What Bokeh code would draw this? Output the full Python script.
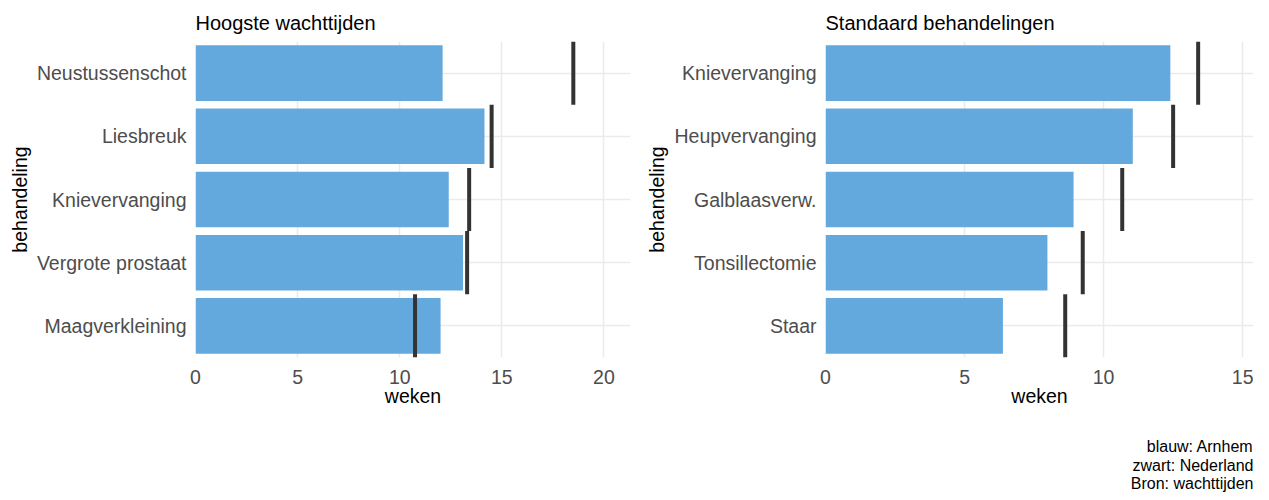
from bokeh.plotting import figure
from bokeh.models import FactorRange, Range1d, FixedTicker
from bokeh.layouts import row, column
from bokeh.embed import file_html
from bokeh.resources import INLINE

# Data
left_cats = ["Neustussenschot", "Liesbreuk", "Knievervanging", "Vergrote prostaat", "Maagverkleining"]
left_arnhem = [12.1, 14.15, 12.4, 13.1, 12.0]
left_nl = [18.5, 14.5, 13.4, 13.3, 10.75]

right_cats = ["Knievervanging", "Heupvervanging", "Galblaasverw.", "Tonsillectomie", "Staar"]
right_arnhem = [12.4, 11.05, 8.92, 7.98, 6.38]
right_nl = [13.4, 12.5, 10.67, 9.25, 8.62]

left_ticks = [0, 5, 10, 15, 20]
right_ticks = [0, 5, 10, 15]

caption = ["blauw: Arnhem\nzwart: Nederland\nBron: wachttijden"]

FONT = "Liberation Sans"
BAR = "#63A9DD"
SEG = "#333333"
GRID = "#EBEBEB"
H = 492
CAP_H = 72


def make_panel(title, cats, arnhem, nl, xmax, ticks, width, height, mbl, mbr, mbb):
    p = figure(width=width, height=height,
               y_range=FactorRange(factors=list(reversed(cats))),
               x_range=Range1d(0, xmax),
               output_backend="svg", toolbar_location=None,
               min_border_left=mbl, min_border_right=mbr,
               min_border_top=41, min_border_bottom=mbb)
    p.hbar(y=cats, right=arnhem, left=0, height=0.88, fill_color=BAR, line_color=None)
    p.rect(x=nl, y=cats, width=4, width_units="screen", height=1.0,
           fill_color=SEG, line_color=None)
    p.title.text = title
    p.title.align = "left"
    p.title.text_font = FONT
    p.title.text_font_size = "20px"
    p.title.text_font_style = "normal"
    p.title.text_color = "black"
    p.title.standoff = 16
    p.outline_line_color = None
    p.xaxis.ticker = FixedTicker(ticks=ticks)
    for ax in (p.xaxis, p.yaxis):
        ax.axis_line_color = None
        ax.major_tick_line_color = None
        ax.minor_tick_line_color = None
        ax.major_label_text_font = FONT
        ax.major_label_text_font_size = "19.5px"
        ax.major_label_text_color = "#4D4D4D"
        ax.axis_label_text_font = FONT
        ax.axis_label_text_font_size = "19.5px"
        ax.axis_label_text_font_style = "normal"
        ax.axis_label_text_color = "black"
    p.xaxis.axis_label = "weken"
    p.yaxis.axis_label = "behandeling"
    p.xaxis.major_label_standoff = 6
    p.xaxis.axis_label_standoff = -2
    p.yaxis.major_label_standoff = 3
    p.yaxis.axis_label_standoff = 3
    p.xgrid.grid_line_color = GRID
    p.xgrid.grid_line_width = 1.5
    p.ygrid.grid_line_color = GRID
    p.ygrid.grid_line_width = 1.5
    return p


p1 = make_panel("Hoogste wachttijden", left_cats, left_arnhem, left_nl, 21.3, left_ticks,
                634, H, 195, 4, 135)
p2 = make_panel("Standaard behandelingen", right_cats, right_arnhem, right_nl, 15.39, right_ticks,
                619, H - CAP_H, 191, 0, H - CAP_H - 41 - 316)

# caption block under the right panel
capfig = figure(width=619, height=CAP_H, x_range=Range1d(0, 1), y_range=Range1d(0, 1),
                output_backend="svg", toolbar_location=None,
                x_axis_location=None, y_axis_location=None,
                min_border_left=0, min_border_right=0, min_border_top=0, min_border_bottom=0)
capfig.outline_line_color = None
capfig.xgrid.visible = False
capfig.ygrid.visible = False
capfig.text(x=[1], y=[0], text=caption, text_align="right", text_baseline="bottom",
            text_font={"value": FONT}, text_font_size="16px", text_color="black",
            text_line_height=1.1)

layout = row(p1, column(p2, capfig))
open("out.html", "w").write(file_html(layout, INLINE))
